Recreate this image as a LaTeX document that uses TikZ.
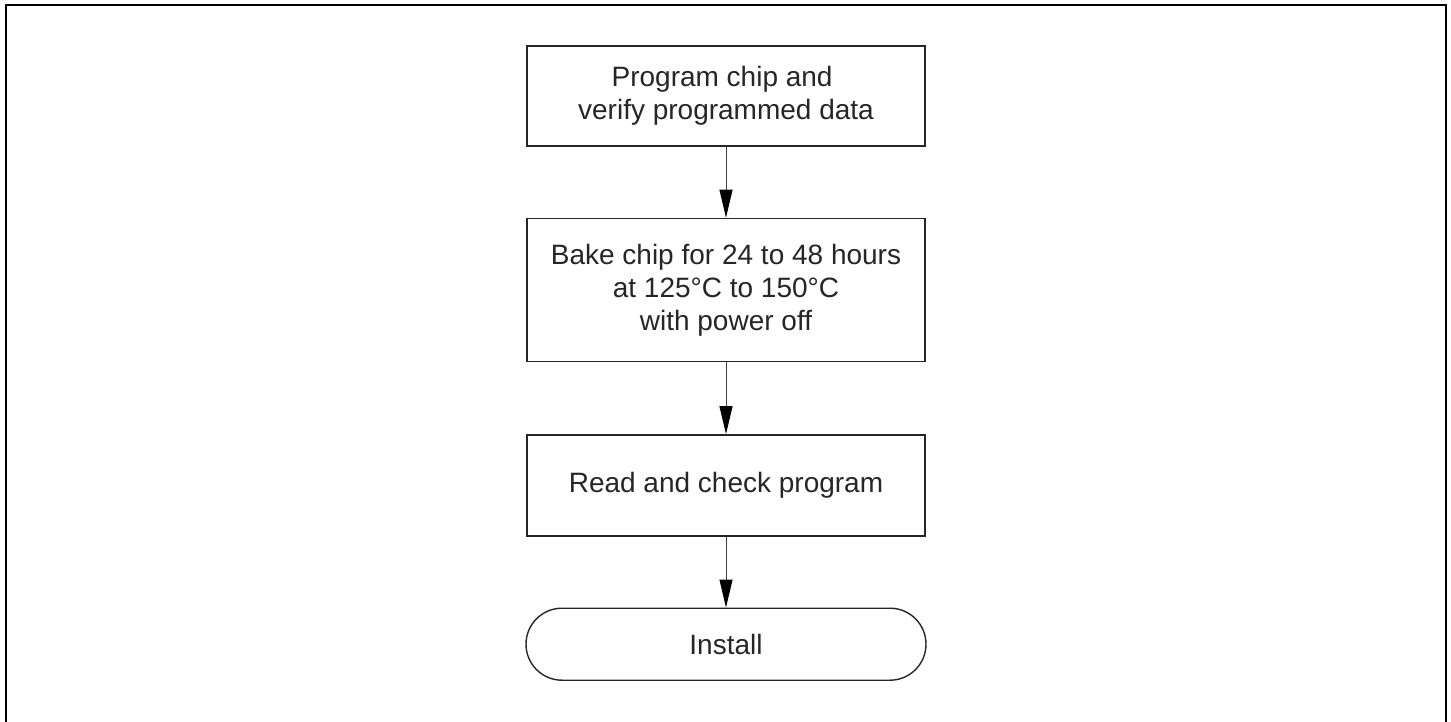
\documentclass[tikz,border=0pt]{standalone}
\usepackage{fontspec}
\setmainfont{Liberation Sans}
\usetikzlibrary{arrows.meta,positioning}

\begin{document}
\begin{tikzpicture}[
  font=\fontsize{14}{16.5}\selectfont,
  stepbox/.style={rectangle,draw=black!85,line width=0.7pt,
                  minimum width=199pt,text=black!85,align=center,inner sep=0pt},
  termbox/.style={rectangle,draw=black!85,line width=0.7pt,rounded corners=18pt,
                  minimum width=200pt,minimum height=36pt,text=black!85,align=center},
  flow/.style={-{Triangle[length=14pt,width=6.5pt,black]},line width=0.5pt,black!75},
  every node/.style={align=center}
]
  \useasboundingbox (0,0) rectangle (725.5pt,-361pt);
  % outer frame, open at the bottom
  \draw[line width=0.6pt] (3pt,-361pt) -- (3pt,-2.5pt) -- (723pt,-2.5pt) -- (723pt,-361pt);

  \node[stepbox,minimum height=50pt] (prog) at (363pt,-48pt)
    {Program chip and\ \ \\verify programmed data};
  \node[stepbox,minimum height=71.5pt,below=35.5pt of prog] (bake)
    {Bake chip for 24 to 48 hours\\at 125°C to 150°C\\with power off\ };
  \node[stepbox,minimum height=50.5pt,below=36pt of bake] (check)
    {Read and check program};
  \node[termbox,below=35.5pt of check] (install) {Install};

  \draw[flow] (prog) -- (bake);
  \draw[flow] (bake) -- (check);
  \draw[flow] (check) -- (install);
\end{tikzpicture}
\end{document}
